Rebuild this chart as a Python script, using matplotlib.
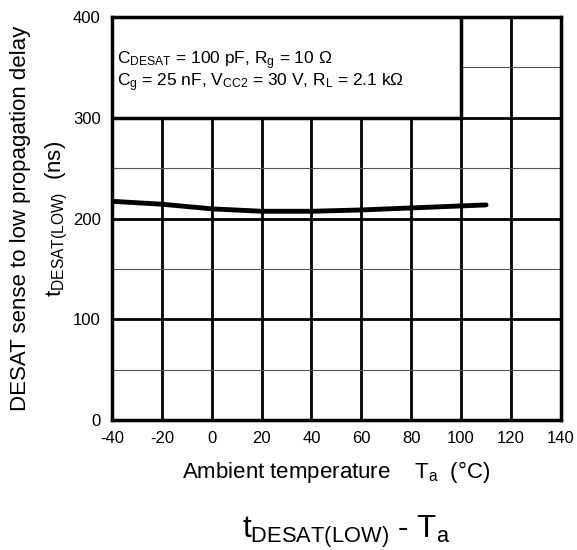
import matplotlib
matplotlib.use("Agg")
import matplotlib.pyplot as plt
import numpy as np

plt.rcParams["font.family"] = ["Liberation Sans", "DejaVu Sans"]
plt.rcParams["mathtext.fontset"] = "custom"
plt.rcParams["mathtext.rm"] = "Liberation Sans"
plt.rcParams["mathtext.it"] = "Liberation Sans"
plt.rcParams["axes.unicode_minus"] = False

# data
temp = [-40, -20, 0, 20, 40, 60, 80, 100, 110]
delay = [217.2, 214.3, 209.7, 207.3, 207.3, 208.6, 210.6, 212.6, 213.6]

x_ticks = [-40, -20, 0, 20, 40, 60, 80, 100, 120, 140]
y_ticks = [0, 100, 200, 300, 400]
y_minor = [50, 150, 250, 350]

fig = plt.figure(figsize=(5.77, 5.5), dpi=100)
ax = fig.add_axes([0.194, 0.236, 0.778, 0.733])

ax.set_xlim(-40, 140)
ax.set_ylim(0, 400)
ax.set_xticks(x_ticks)
ax.set_yticks(y_ticks)
ax.set_yticks(y_minor, minor=True)
ax.tick_params(which="both", length=0, labelsize=12, pad=8)

ax.grid(which="major", color="black", linewidth=2)
ax.grid(which="minor", axis="y", color="#555555", linewidth=0.8)
ax.set_axisbelow(True)
for sp in ax.spines.values():
    sp.set_linewidth(2.5)

ax.plot(temp, delay, color="black", linewidth=3.5, solid_capstyle="round")

# condition box covering the upper-left grid
ax.add_patch(plt.Rectangle((-40, 300), 140, 100, facecolor="white",
                           edgecolor="black", linewidth=2.5, zorder=3))
ax.text(-38, 357, r"$\mathregular{C_{DESAT}}$ = 100 pF, $\mathregular{R_g}$ = 10 Ω",
        fontsize=12.5, zorder=4, va="center")
ax.text(-38, 335, r"$\mathregular{C_g}$ = 25 nF, $\mathregular{V_{CC2}}$ = 30 V, $\mathregular{R_L}$ = 2.1 kΩ",
        fontsize=12.5, zorder=4, va="center")

ax.set_xlabel(r"Ambient temperature    $\mathregular{T_a}$  (°C)", fontsize=16, labelpad=9)
ax.set_ylabel("DESAT sense to low propagation delay\n" + r"$\mathregular{t_{DESAT(LOW)}}$  (ns)",
              fontsize=16, labelpad=2, linespacing=1.75)

fig.text(0.600, 0.022, r"$\mathregular{t_{DESAT(LOW)}}$ - $\mathregular{T_a}$", fontsize=22.5,
         ha="center", va="baseline")

fig.savefig("out.png", dpi=100)
